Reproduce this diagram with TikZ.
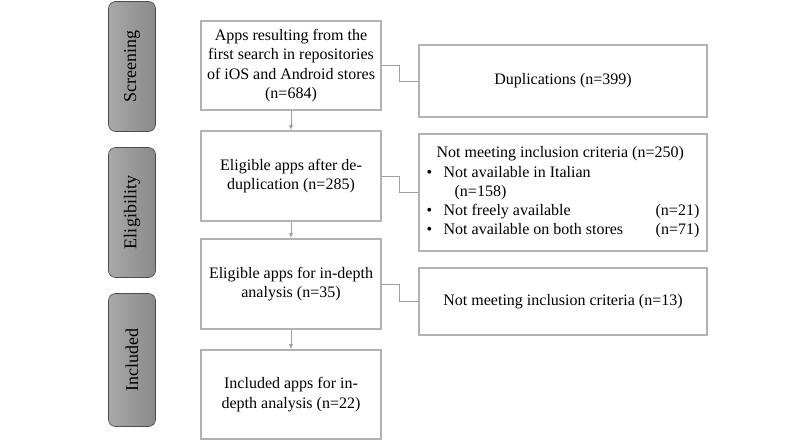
\documentclass[tikz,border=0pt]{standalone}
\usepackage{fontspec}
\setmainfont{Liberation Serif}
\usepackage{xcolor}
\usetikzlibrary{arrows,shapes,positioning,calc}
\tikzstyle{stage}=[draw=gray!60, line width=1.6pt, fill=white, align=center, inner sep=0pt, font=\fontsize{16}{19.3}\selectfont]
\tikzstyle{phase}=[draw=black!70, line width=0.6pt, rounded corners=7pt, left color=gray!68, right color=gray!92, minimum width=47pt, inner sep=0pt, font=\fontsize{18}{20}\selectfont]
\tikzstyle{conn}=[draw=gray!75, line width=0.8pt]
\newcommand{\phasetext}[1]{\rotatebox{90}{#1}}

\begin{document}
\begin{tikzpicture}[x=1pt, y=-1pt]
\useasboundingbox (0,0) rectangle (800,442);

% phases
\node[phase, minimum height=130pt] (screen) at (132,66.5) {\phasetext{Screening}};
\node[phase, minimum height=130pt] (elig) at (132,212.5) {\phasetext{Eligibility}};
\node[phase, minimum height=133pt] (incl) at (132,360) {\phasetext{Included}};

% main column
\node[stage, minimum width=180pt, minimum height=89pt] (first) at (291,65.5)
  {Apps resulting from the\\first search in repositories\\of iOS and Android stores\\(n=684)};
\node[stage, minimum width=180pt, minimum height=90pt] (dedup) at (291,176)
  {Eligible apps after de-\\duplication (n=285)};
\node[stage, minimum width=180pt, minimum height=90pt] (depth) at (291,284)
  {Eligible apps for in-depth\\analysis (n=35)};
\node[stage, minimum width=180pt, minimum height=89pt] (final) at (291,394.5)
  {Included apps for in-\\depth analysis (n=22)};

% exclusions
\node[stage, minimum width=288pt, minimum height=72pt] (dupl) at (563,81) {Duplications (n=399)};
\node[stage, minimum width=288pt, minimum height=117pt] (crit) at (563,192.5)
  {\begin{tabular}{@{}p{17pt}@{}p{212pt}@{}r@{}}
   \multicolumn{3}{@{\hspace{10pt}}l@{}}{Not meeting inclusion criteria (n=250)}\\
   \textbullet & Not available in Italian & \\
   & \hspace{11pt}(n=158) & \\
   \textbullet & Not freely available & (n=21)\\
   \textbullet & Not available on both stores & (n=71)
   \end{tabular}};
\node[stage, minimum width=288pt, minimum height=67pt] (crit2) at (563,301.5) {Not meeting inclusion criteria (n=13)};

% arrows
\draw[conn, ->, >=latex] (first) -- (dedup);
\draw[conn, ->, >=latex] (dedup) -- (depth);
\draw[conn, ->, >=latex] (depth) -- (final);

% side links
\draw[conn] (first.east) -- ++(18,0) |- (dupl.west);
\draw[conn] (dedup.east) -- ++(18,0) |- (crit.west);
\draw[conn] (depth.east) -- ++(18,0) |- (crit2.west);

\end{tikzpicture}
\end{document}
